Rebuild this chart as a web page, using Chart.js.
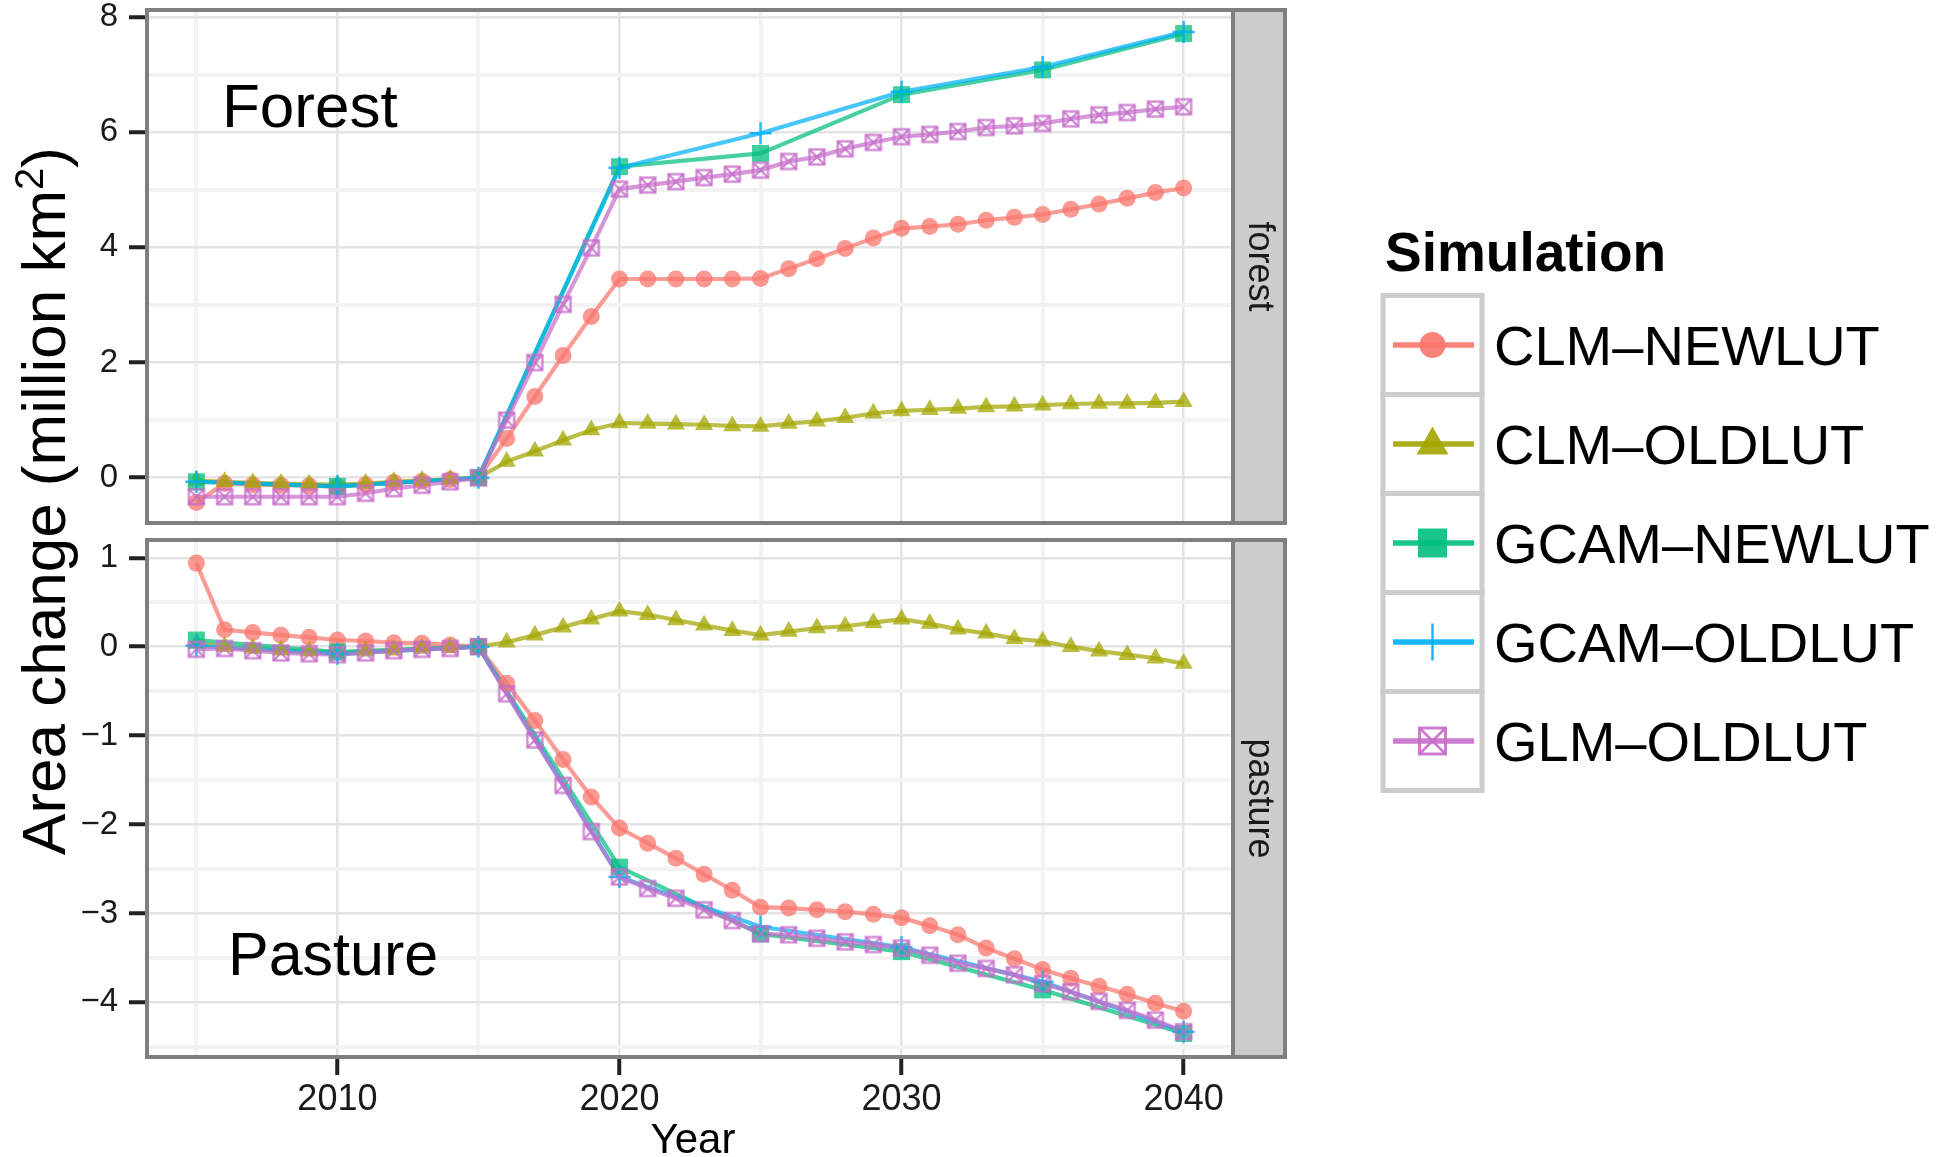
<!DOCTYPE html>
<html>
<head>
<meta charset="utf-8">
<title>Area change</title>
<script src="https://cdn.jsdelivr.net/npm/chart.js@4.4.1/dist/chart.umd.min.js"></script>
<style>
  html, body { margin: 0; padding: 0; background: #fff; }
  body { width: 1953px; height: 1157px; position: relative; overflow: hidden; }
  canvas { position: absolute; left: 0; }
  #forestCanvas { top: -40px; }
  #pastureCanvas { top: 500px; }
  #overlay { position: absolute; left: 0; top: 0; }
</style>
</head>
<body>
<canvas id="forestCanvas" width="1300" height="600"></canvas>
<canvas id="pastureCanvas" width="1300" height="657"></canvas>
<svg id="overlay" width="1953" height="1157" xmlns="http://www.w3.org/2000/svg"></svg>
<script>
// ---- data ----
const yearsAnnual = [2005,2006,2007,2008,2009,2010,2011,2012,2013,2014,2015,2016,2017,2018,2019,2020,2021,2022,
                     2023,2024,2025,2026,2027,2028,2029,2030,2031,2032,2033,2034,2035,2036,2037,2038,2039,2040];
const years5 = [2005,2010,2015,2020,2025,2030,2035,2040];

const seriesNames = ['CLM–NEWLUT','CLM–OLDLUT','GCAM–NEWLUT','GCAM–OLDLUT','GLM–OLDLUT'];

// forest panel
const forestClmNew = [-0.43,-0.10,-0.12,-0.13,-0.14,-0.15,-0.12,-0.08,-0.06,-0.03,0,0.68,1.41,2.12,2.80,3.45,3.45,3.45,
                      3.45,3.45,3.46,3.63,3.80,3.98,4.16,4.33,4.36,4.40,4.47,4.52,4.57,4.66,4.75,4.85,4.95,5.03];
const forestClmOld = [-0.05,-0.07,-0.09,-0.10,-0.11,-0.12,-0.10,-0.07,-0.05,-0.03,0,0.28,0.46,0.65,0.83,0.95,0.94,0.93,
                      0.92,0.90,0.89,0.94,0.98,1.04,1.12,1.16,1.18,1.20,1.23,1.24,1.26,1.28,1.29,1.29,1.30,1.32];
const forestGcamNew = [-0.07,-0.15,0,5.40,5.63,6.65,7.08,7.71];
const forestGcamOld = [-0.07,-0.15,0,5.38,5.98,6.70,7.13,7.74];
const forestGlmOld = [-0.33,-0.33,-0.33,-0.33,-0.33,-0.33,-0.27,-0.19,-0.13,-0.07,0,1.00,2.00,3.01,3.99,5.01,5.08,5.14,
                      5.21,5.27,5.34,5.49,5.57,5.71,5.82,5.92,5.96,6.01,6.08,6.11,6.15,6.23,6.30,6.34,6.40,6.44];

// pasture panel
const pastureClmNew = [0.94,0.19,0.16,0.13,0.105,0.075,0.064,0.045,0.04,0.02,0,-0.41,-0.83,-1.27,-1.69,-2.04,-2.21,-2.38,
                       -2.56,-2.74,-2.93,-2.94,-2.96,-2.98,-3.01,-3.05,-3.14,-3.24,-3.39,-3.51,-3.63,-3.73,-3.82,-3.91,-4.01,-4.10];
const pastureClmOld = [0.04,0.0,-0.02,-0.04,-0.05,-0.07,-0.05,-0.04,-0.02,-0.01,0,0.05,0.13,0.22,0.31,0.40,0.36,0.30,
                       0.24,0.18,0.13,0.17,0.21,0.23,0.27,0.31,0.26,0.195,0.15,0.09,0.06,0.0,-0.05,-0.09,-0.13,-0.19];
const pastureGcamNew = [0.075,-0.06,0,-2.48,-3.23,-3.43,-3.86,-4.35];
const pastureGcamOld = [0.01,-0.08,0,-2.59,-3.15,-3.38,-3.77,-4.33];
const pastureGlmOld = [-0.03,-0.02,-0.045,-0.07,-0.08,-0.09,-0.07,-0.045,-0.03,-0.02,0,-0.53,-1.05,-1.56,-2.08,-2.59,-2.72,-2.83,
                       -2.96,-3.08,-3.23,-3.24,-3.28,-3.32,-3.35,-3.39,-3.47,-3.56,-3.62,-3.69,-3.79,-3.88,-3.99,-4.09,-4.20,-4.33];

// ticks
const xMajor = [2010,2020,2030,2040];
const xMinor = [2005,2015,2025,2035];
const forestMajor = [0,2,4,6,8];
const forestMinor = [1,3,5,7];
const pastureMajor = [-4,-3,-2,-1,0,1];
const pastureMinor = [-4.5,-3.5,-2.5,-1.5,-0.5,0.5];

// ---- style ----
const FONT = '"Liberation Sans", Arial, Helvetica, sans-serif';
const colors = ['#F8766D','#A3A500','#00BF7D','#00B0F6','#C66DC9'];
Chart.defaults.font.family = FONT;

function rgba(hex, a) {
  const n = parseInt(hex.slice(1), 16);
  return `rgba(${(n >> 16) & 255},${(n >> 8) & 255},${n & 255},${a})`;
}

function boxCross(color, side, lw) {
  const c = document.createElement('canvas');
  const n = Math.ceil(side + lw + 2);
  c.width = n; c.height = n;
  const g = c.getContext('2d');
  const o = (n - side) / 2;
  g.strokeStyle = color; g.lineWidth = lw;
  g.strokeRect(o, o, side, side);
  g.beginPath();
  g.moveTo(o, o); g.lineTo(o + side, o + side);
  g.moveTo(o + side, o); g.lineTo(o, o + side);
  g.stroke();
  return c;
}

const pointStyles = [
  { pointStyle: 'circle', pointRadius: 8.5, pointBorderWidth: 0 },
  { pointStyle: 'triangle', pointRadius: 10.5, pointBorderWidth: 0 },
  { pointStyle: 'rect', pointRadius: 12, pointBorderWidth: 0 },
  { pointStyle: 'cross', pointRadius: 11, pointBorderWidth: 2.5 },
  { pointStyle: boxCross(rgba(colors[4], 0.8), 15, 2.4), pointRadius: 9, pointBorderWidth: 0 }
];

function buildDatasets(valueLists) {
  const ds = [];
  valueLists.forEach((vals, i) => {
    const xs = vals.length === yearsAnnual.length ? yearsAnnual : years5;
    const pts = xs.map((x, k) => ({ x: x, y: vals[k] }));
    ds.push({
      label: seriesNames[i], data: pts, borderColor: rgba(colors[i], 0.72), borderWidth: 4.2,
      pointRadius: 0, fill: false, tension: 0, order: 10 - i
    });
    const ps = pointStyles[i];
    ds.push({
      label: seriesNames[i], data: pts, showLine: false, order: 5 - i,
      pointStyle: ps.pointStyle, pointRadius: ps.pointRadius, pointBorderWidth: ps.pointBorderWidth,
      pointBackgroundColor: rgba(colors[i], 0.75), pointBorderColor: rgba(colors[i], 0.85)
    });
  });
  return ds;
}

const fmt = v => (v < 0 ? '\u2212' + Math.abs(v) : String(v));

const panelDeco = {
  id: 'panelDeco',
  afterDraw(chart, args, o) {
    const { ctx, chartArea: a } = chart;
    ctx.save();
    ctx.fillStyle = '#cccccc';
    ctx.fillRect(a.right, a.top, o.stripWidth, a.bottom - a.top);
    ctx.strokeStyle = '#7f7f7f';
    ctx.lineWidth = 4;
    ctx.strokeRect(a.right, a.top, o.stripWidth, a.bottom - a.top);
    ctx.strokeRect(a.left, a.top, a.right - a.left, a.bottom - a.top);
    ctx.translate(a.right + o.stripWidth / 2, (a.top + a.bottom) / 2);
    ctx.rotate(Math.PI / 2);
    ctx.fillStyle = '#1a1a1a';
    ctx.font = '36px ' + FONT;
    ctx.textAlign = 'center';
    ctx.textBaseline = 'middle';
    ctx.fillText(o.strip, 0, 0);
    ctx.restore();
    ctx.save();
    ctx.fillStyle = '#000';
    ctx.font = o.labelSize + 'px ' + FONT;
    ctx.textBaseline = 'alphabetic';
    ctx.fillText(o.label, o.labelX, o.labelY);
    ctx.restore();
  }
};

function makePanel(id, cfg) {
  const xTicks = xMinor.concat(xMajor).sort((a, b) => a - b);
  const yTicks = cfg.minor.concat(cfg.major).sort((a, b) => a - b);
  const isMinorX = v => xMinor.includes(v);
  const isMinorY = v => cfg.minor.includes(v);
  return new Chart(document.getElementById(id), {
    type: 'line',
    data: { datasets: buildDatasets(cfg.values) },
    options: {
      responsive: false, animation: false, devicePixelRatio: 1, events: [],
      layout: { autoPadding: false, padding: { left: 0, right: 67, top: cfg.padTop, bottom: cfg.padBottom } },
      plugins: {
        legend: { display: false }, tooltip: { enabled: false },
        panelDeco: { stripWidth: 52, strip: cfg.strip, label: cfg.label, labelX: cfg.labelX, labelY: cfg.labelY, labelSize: cfg.labelSize }
      },
      scales: {
        x: {
          type: 'linear', min: 2003.25, max: 2041.75,
          afterBuildTicks: s => { s.ticks = xTicks.map(v => ({ value: v })); },
          afterFit: s => { s.height = cfg.xHeight; },
          border: { display: false },
          grid: {
            color: c => isMinorX(c.tick.value) ? '#f3f3f3' : '#e4e4e4',
            lineWidth: c => isMinorX(c.tick.value) ? 4 : 2.5,
            drawTicks: cfg.showX, tickLength: 18,
            tickColor: c => isMinorX(c.tick.value) ? 'rgba(0,0,0,0)' : '#222',
            tickWidth: 4
          },
          ticks: {
            display: cfg.showX, autoSkip: false, maxRotation: 0, padding: 3,
            color: '#1a1a1a', font: { size: 36 },
            callback: v => xMajor.includes(v) ? String(v) : ''
          }
        },
        y: {
          min: cfg.min, max: cfg.max,
          afterBuildTicks: s => { s.ticks = yTicks.map(v => ({ value: v })); },
          afterFit: s => { s.width = 147; },
          border: { display: false },
          grid: {
            color: c => isMinorY(c.tick.value) ? '#f3f3f3' : '#e4e4e4',
            lineWidth: c => isMinorY(c.tick.value) ? 4 : 2.5,
            drawTicks: true, tickLength: 18,
            tickColor: c => isMinorY(c.tick.value) ? 'rgba(0,0,0,0)' : '#222',
            tickWidth: 4
          },
          ticks: {
            autoSkip: false, padding: 11, color: '#1a1a1a', font: { size: 33 },
            callback: v => cfg.major.includes(v) ? fmt(v) : ''
          }
        }
      }
    },
    plugins: [panelDeco]
  });
}

// forest canvas sits at top:-40px, pasture canvas at top:500px
makePanel('forestCanvas', {
  values: [forestClmNew, forestClmOld, forestGcamNew, forestGcamOld, forestGlmOld],
  min: -0.786, max: 8.12, major: forestMajor, minor: forestMinor,
  padTop: 50, padBottom: 37, xHeight: 0, showX: false,
  strip: 'forest', label: 'Forest', labelX: 222, labelY: 167, labelSize: 62
});
makePanel('pastureCanvas', {
  values: [pastureClmNew, pastureClmOld, pastureGcamNew, pastureGcamOld, pastureGlmOld],
  min: -4.615, max: 1.20, major: pastureMajor, minor: pastureMinor,
  padTop: 40, padBottom: 40, xHeight: 60, showX: true,
  strip: 'pasture', label: 'Pasture', labelX: 228, labelY: 475, labelSize: 61
});

// ---- titles and legend ----
let s = '';
s += `<text transform="translate(65,501) rotate(-90)" text-anchor="middle" font-family='${FONT}' font-size="62" fill="#000">` +
     `Area change (million km<tspan dy="-22" font-size="40">2</tspan><tspan dy="22">)</tspan></text>`;
s += `<text x="693" y="1153" text-anchor="middle" font-family='${FONT}' font-size="42" fill="#000">Year</text>`;
s += `<text x="1385" y="271" font-family='${FONT}' font-size="55" font-weight="bold" fill="#000">Simulation</text>`;

seriesNames.forEach((name, i) => {
  const top = 295.5 + 99 * i;
  const cx = 1432.5, cy = top + 49.5;
  const col = rgba(colors[i], 0.9);
  s += `<rect x="1383" y="${top}" width="99" height="99" fill="#fff" stroke="#cccccc" stroke-width="5"/>`;
  s += `<line x1="1393" y1="${cy}" x2="1474" y2="${cy}" stroke="${col}" stroke-width="5.5"/>`;
  if (i === 0) s += `<circle cx="${cx}" cy="${cy}" r="13" fill="${col}"/>`;
  if (i === 1) s += `<polygon points="${cx},${cy - 17.5} ${cx - 16},${cy + 10.5} ${cx + 16},${cy + 10.5}" fill="${col}"/>`;
  if (i === 2) s += `<rect x="${cx - 14.5}" y="${cy - 14.5}" width="29" height="29" fill="${col}"/>`;
  if (i === 3) s += `<line x1="${cx}" y1="${cy - 18.5}" x2="${cx}" y2="${cy + 18.5}" stroke="${col}" stroke-width="2.5"/>`;
  if (i === 4) {
    s += `<rect x="${cx - 13}" y="${cy - 13}" width="26" height="26" fill="none" stroke="${col}" stroke-width="3"/>`;
    s += `<path d="M${cx - 13} ${cy - 13} L${cx + 13} ${cy + 13} M${cx + 13} ${cy - 13} L${cx - 13} ${cy + 13}" stroke="${col}" stroke-width="2.5"/>`;
  }
  s += `<text x="1494" y="${cy + 20}" font-family='${FONT}' font-size="56" fill="#000">${name}</text>`;
});
document.getElementById('overlay').innerHTML = s;
</script>
</body>
</html>
